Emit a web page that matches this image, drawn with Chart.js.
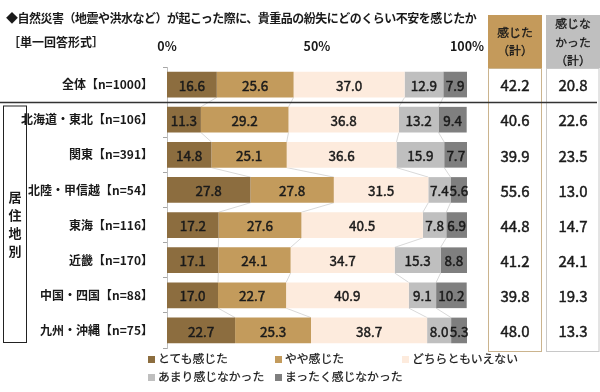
<!DOCTYPE html>
<html lang="ja">
<head>
<meta charset="utf-8">
<script src="https://cdn.jsdelivr.net/npm/chart.js@4.4.1/dist/chart.umd.min.js"></script>
<style>
  body { margin: 0; background: #fff; }
  #wrap { position: relative; width: 600px; height: 392px; font-family: "Noto Sans CJK JP", "Noto Sans", sans-serif; color: #1a1a1a; }
  #chart { position: absolute; left: 0; top: 0; }
  .title { position: absolute; left: 6px; top: 10px; font-size: 12px; line-height: 16px; font-weight: bold; letter-spacing: -0.5px; white-space: nowrap; }
  .sub { position: absolute; left: 8px; top: 34px; font-size: 12px; line-height: 16px; font-weight: bold; white-space: nowrap; }
  .lg { position: absolute; font-size: 11.8px; line-height: 14px; white-space: nowrap; -webkit-text-stroke: 0.25px #1a1a1a; }
  .lg i { display: inline-block; width: 7px; height: 7px; margin-right: 3px; }
</style>
</head>
<body>
<div id="wrap">
  <canvas id="chart" width="600" height="392"></canvas>
  <div class="title">◆自然災害（地震や洪水など）が起こった際に、貴重品の紛失にどのくらい不安を感じたか</div>
  <div class="sub">［単一回答形式］</div>
  <div id="legend"></div>
</div>
<script>
// データ
const categories = ["全体【n=1000】", "北海道・東北【n=106】", "関東【n=391】", "北陸・甲信越【n=54】",
  "東海【n=116】", "近畿【n=170】", "中国・四国【n=88】", "九州・沖縄【n=75】"];
const seriesNames = ["とても感じた", "やや感じた", "どちらともいえない", "あまり感じなかった", "まったく感じなかった"];
const veryMuch = [16.6, 11.3, 14.8, 27.8, 17.2, 17.1, 17.0, 22.7];
const somewhat = [25.6, 29.2, 25.1, 27.8, 27.6, 24.1, 22.7, 25.3];
const neither = [37.0, 36.8, 36.6, 31.5, 40.5, 34.7, 40.9, 38.7];
const notMuch = [12.9, 13.2, 15.9, 7.4, 7.8, 15.3, 9.1, 8.0];
const notAtAll = [7.9, 9.4, 7.7, 5.6, 6.9, 8.8, 10.2, 5.3];
const feltTotal = [42.2, 40.6, 39.9, 55.6, 44.8, 41.2, 39.8, 48.0];
const notFeltTotal = [20.8, 22.6, 23.5, 13.0, 14.7, 24.1, 19.3, 13.3];
const xTicks = [0, 50, 100];
const groupLabel = "居住地別";

const colors = ["#8c6d3f", "#c39b5c", "#fdebdd", "#bfbfbf", "#7f7f7f"];
const FONT = '"Noto Sans CJK JP", "Noto Sans", sans-serif';
const seriesData = [veryMuch, somewhat, neither, notMuch, notAtAll];

// 凡例 (HTML)
const legendPos = [[148, 351], [275, 351], [402, 351], [148, 369], [275, 369]];
const legend = document.getElementById("legend");
seriesNames.forEach((name, i) => {
  const d = document.createElement("div");
  d.className = "lg";
  d.style.left = legendPos[i][0] + "px";
  d.style.top = legendPos[i][1] + "px";
  d.innerHTML = '<i style="background:' + colors[i] + '"></i>' + name;
  legend.appendChild(d);
});

// 少し太めの文字
function boldish(ctx, text, x, y) {
  ctx.fillText(text, x, y);
  ctx.strokeText(text, x, y);
}

// ラベル、区切り線、右の表
const overlay = {
  id: "overlay",
  beforeDatasetsDraw(chart) {
    const { ctx, scales: { x } } = chart;
    const meta0 = chart.getDatasetMeta(0);
    ctx.save();
    ctx.strokeStyle = "#cfcfcf";
    ctx.lineWidth = 0.8;
    for (let i = 0; i < categories.length - 1; i++) {
      const b1 = meta0.data[i], b2 = meta0.data[i + 1];
      let c1 = 0, c2 = 0;
      for (let k = 0; k < 4; k++) {
        c1 += seriesData[k][i];
        c2 += seriesData[k][i + 1];
        ctx.beginPath();
        ctx.moveTo(x.getPixelForValue(c1), b1.y + b1.height / 2);
        ctx.lineTo(x.getPixelForValue(c2), b2.y - b2.height / 2);
        ctx.stroke();
      }
    }
    ctx.restore();
  },
  afterDatasetsDraw(chart) {
    const ctx = chart.ctx;
    ctx.save();
    ctx.font = "13.5px " + FONT;
    ctx.fillStyle = "#1a1a1a";
    ctx.strokeStyle = "#1a1a1a";
    ctx.lineWidth = 0.45;
    ctx.textAlign = "center";
    ctx.textBaseline = "middle";
    chart.data.datasets.forEach((ds, di) => {
      chart.getDatasetMeta(di).data.forEach((bar, i) => {
        boldish(ctx, ds.data[i].toFixed(1), (bar.x + bar.base) / 2, bar.y + 1);
      });
    });
    ctx.restore();
  },
  afterDraw(chart) {
    const { ctx, scales: { y } } = chart;
    ctx.save();
    // 表のヘッダー
    ctx.fillStyle = "#c49a5b";
    ctx.fillRect(488, 15, 54, 53);
    ctx.fillStyle = "#bfbfbf";
    ctx.fillRect(546, 15, 54, 53);
    ctx.fillStyle = "#1a1a1a";
    ctx.strokeStyle = "#1a1a1a";
    ctx.lineWidth = 0.35;
    ctx.textAlign = "center";
    ctx.textBaseline = "middle";
    ctx.font = "11.8px " + FONT;
    boldish(ctx, "感じた", 515, 33);
    boldish(ctx, "（計）", 515, 51);
    boldish(ctx, "感じな", 573, 24);
    boldish(ctx, "かった", 573, 43);
    boldish(ctx, "（計）", 573, 61);
    // 表の枠
    ctx.lineWidth = 1;
    ctx.strokeStyle = "#cbb48e";
    ctx.strokeRect(488.5, 68.5, 53, 283);
    ctx.strokeStyle = "#c8c8c8";
    ctx.strokeRect(546.5, 68.5, 52.5, 283);
    // 表の値
    ctx.font = "15px " + FONT;
    ctx.strokeStyle = "#1a1a1a";
    ctx.lineWidth = 0.45;
    categories.forEach((c, i) => {
      const py = y.getPixelForValue(i) + 1;
      boldish(ctx, feltTotal[i].toFixed(1), 515, py);
      boldish(ctx, notFeltTotal[i].toFixed(1), 573, py);
    });
    // 全体と地域の区切り線
    const sepY = Math.round((y.getPixelForValue(0) + y.getPixelForValue(1)) / 2) + 0.5;
    ctx.strokeStyle = "#333";
    ctx.lineWidth = 1.3;
    ctx.beginPath();
    ctx.moveTo(0, sepY);
    ctx.lineTo(597, sepY);
    ctx.stroke();
    // 居住地別の枠
    const top = sepY + 3.5, bottom = 342.5;
    ctx.strokeStyle = "#222";
    ctx.lineWidth = 1;
    ctx.strokeRect(3.5, top, 23, bottom - top);
    ctx.font = "bold 13px " + FONT;
    const mid = (top + bottom) / 2;
    [...groupLabel].forEach((ch, i) => {
      ctx.fillText(ch, 15, mid + (i - 1.5) * 18);
    });
    ctx.restore();
  }
};

new Chart(document.getElementById("chart"), {
  type: "bar",
  data: {
    labels: categories,
    datasets: seriesNames.map((name, i) => ({
      label: name,
      data: seriesData[i],
      backgroundColor: colors[i],
      borderWidth: 0,
      barPercentage: 0.73,
      categoryPercentage: 1
    }))
  },
  options: {
    indexAxis: "y",
    responsive: false,
    animation: false,
    devicePixelRatio: 1,
    layout: { padding: { left: 0, right: 133, top: 20, bottom: 44 } },
    plugins: { legend: { display: false }, tooltip: { enabled: false } },
    scales: {
      x: {
        position: "top",
        stacked: true,
        min: 0,
        max: 100,
        grid: { display: false },
        border: { display: false },
        afterBuildTicks: (s) => { s.ticks = xTicks.map(v => ({ value: v })); },
        afterFit: (s) => { s.height = 47; s.paddingLeft = 0; s.paddingRight = 0; },
        ticks: {
          padding: 5,
          color: "#1a1a1a",
          font: { family: FONT, size: 12.5, weight: "bold" },
          callback: (v) => v + "%"
        }
      },
      y: {
        stacked: true,
        grid: { display: true, drawOnChartArea: false, drawTicks: true, tickLength: 4, color: "#a6a6a6", offset: true },
        border: { display: true, color: "#bfbfbf" },
        afterFit: (s) => { s.width = 167; s.paddingTop = 0; s.paddingBottom = 0; },
        ticks: {
          padding: 10,
          color: "#1a1a1a",
          font: { family: FONT, size: 12, weight: "bold" }
        }
      }
    }
  },
  plugins: [overlay]
});
</script>
</body>
</html>
